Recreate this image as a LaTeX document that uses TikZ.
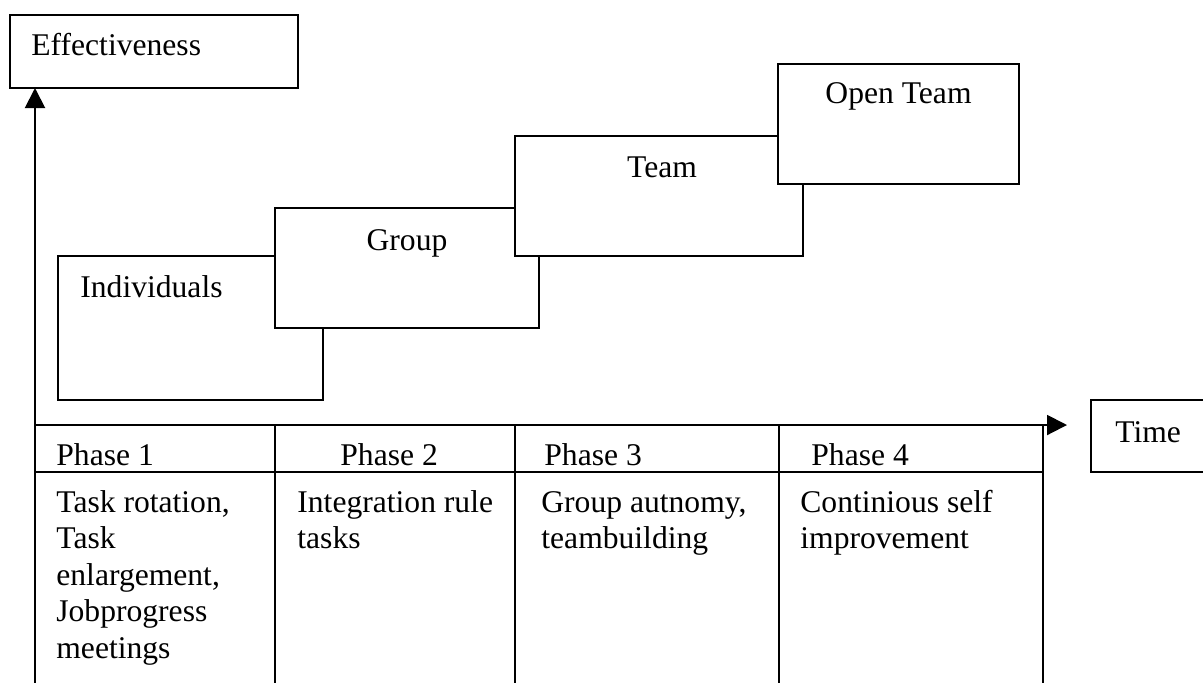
\documentclass[tikz,border=0pt]{standalone}
\usepackage{fontspec}
\setmainfont{Liberation Serif}
\usetikzlibrary{positioning, arrows.meta}
\newcommand{\txtsize}{\fontsize{15.8pt}{18.25pt}\selectfont}

\begin{document}
\begin{tikzpicture}[
        x=0.5pt, y=-0.5pt,
        stepbox/.style={rectangle, draw, fill=white, line width=1pt,
            inner sep=0pt, outer sep=0pt, anchor=north west},
        hcell/.style={rectangle, draw, line width=1pt, inner sep=0pt,
            outer sep=0pt, anchor=north west, minimum height=23.5pt},
        lbl/.style={inner sep=0pt, anchor=base west, font=\txtsize},
        steplbl/.style={inner sep=0pt, anchor=base, font=\txtsize},
        celltxt/.style={inner sep=0pt, anchor=north west, align=left,
            font=\txtsize},
        axis/.style={-{Triangle[length=10pt, width=10pt]}, line width=1pt}
        ]
        \useasboundingbox (0,0) rectangle (1203,682);

        % axis labels
        \node[stepbox, minimum width=144pt, minimum height=36.5pt] (effbox) at (10,15) {};
        \node[lbl] (efftxt) at ([xshift=10.5pt, yshift=-20pt]effbox.north west) {Effectiveness};
        \node[stepbox, minimum width=58pt, minimum height=36pt] (timebox) at (1091,400) {};
        \node[lbl] (timetxt) at ([xshift=12pt, yshift=-21pt]timebox.north west) {Time};

        % stairs
        \node[stepbox, minimum width=132.5pt, minimum height=72pt] (ind) at (58,256) {};
        \node[lbl] (indtxt) at ([xshift=11pt, yshift=-20.5pt]ind.north west) {Individuals};
        \node[stepbox, minimum width=132pt, minimum height=60pt] (grp) at (275,208) {};
        \node[steplbl] (grptxt) at ([yshift=-21pt]grp.north) {Group};
        \node[stepbox, minimum width=144pt, minimum height=60pt] (team) at (515,136) {};
        \node[steplbl] (teamtxt) at ([xshift=1.5pt, yshift=-20.5pt]team.north) {Team};
        \node[stepbox, minimum width=120.5pt, minimum height=60pt] (open) at (778,64) {};
        \node[steplbl] (opentxt) at ([yshift=-19.5pt]open.north) {Open Team};

        % axes
        \coordinate (org) at (35,425);
        \coordinate (ybot) at (35,690);
        \draw[axis] (ybot) -- (ybot |- effbox.south);
        \draw[axis, shorten >=12pt] (org) -- (org -| timebox.west);

        % phase table
        \node[hcell, minimum width=120pt] (ph1) at (org) {};
        \node[hcell, minimum width=120pt, right=0pt of ph1] (ph2) {};
        \node[hcell, minimum width=132pt, right=0pt of ph2] (ph3) {};
        \node[hcell, minimum width=132pt, right=0pt of ph3] (ph4) {};
        \foreach \c in {ph1.south west, ph2.south west, ph3.south west,
                ph4.south west, ph4.south east}
            \draw[line width=1pt] (\c) -- (\c |- ybot);

        \node[lbl] (ph1txt) at ([xshift=10.5pt, yshift=3.5pt]ph1.south west) {Phase 1};
        \node[lbl] (ph2txt) at ([xshift=32.5pt, yshift=3.5pt]ph2.south west) {Phase 2};
        \node[lbl] (ph3txt) at ([xshift=14.5pt, yshift=3.5pt]ph3.south west) {Phase 3};
        \node[lbl] (ph4txt) at ([xshift=16pt, yshift=3.5pt]ph4.south west) {Phase 4};

        % strut top sits 0.7 baselineskip above the first baseline
        \node[celltxt] (c1txt) at ([xshift=10.5pt, yshift=-7.2pt]ph1.south west)
        {\strut Task rotation,\\Task\\enlargement,\\Jobprogress\\meetings};
        \node[celltxt] (c2txt) at ([xshift=11pt, yshift=-7.2pt]ph2.south west)
        {\strut Integration rule\\tasks};
        \node[celltxt] (c3txt) at ([xshift=13pt, yshift=-7.2pt]ph3.south west)
        {\strut Group autnomy,\\teambuilding};
        \node[celltxt] (c4txt) at ([xshift=10.5pt, yshift=-7.2pt]ph4.south west)
        {\strut Continious self\\improvement};
    \end{tikzpicture}
\end{document}
